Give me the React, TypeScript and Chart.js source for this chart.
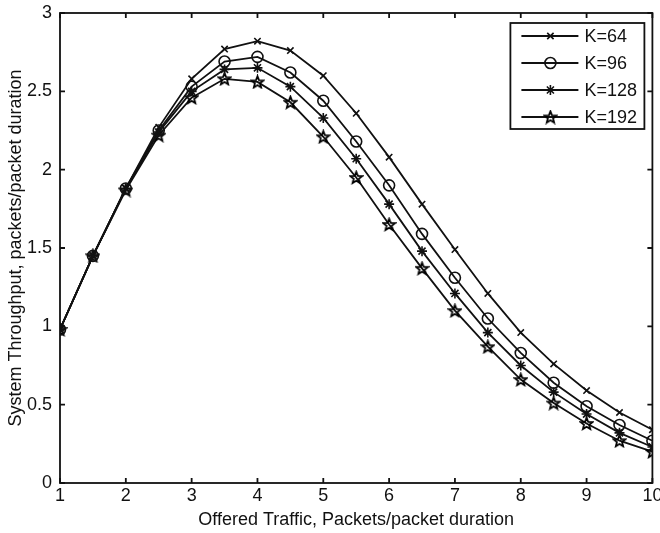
import React, { useEffect, useRef } from "react";
import { Chart, registerables } from "chart.js";

Chart.register(...registerables);

const offeredTraffic = [1, 1.5, 2, 2.5, 3, 3.5, 4, 4.5, 5, 5.5, 6, 6.5, 7, 7.5, 8, 8.5, 9, 9.5, 10];
const k64 = [0.98, 1.45, 1.88, 2.27, 2.58, 2.77, 2.82, 2.76, 2.6, 2.36, 2.08, 1.78, 1.49, 1.21, 0.96, 0.76, 0.59, 0.45, 0.34];
const k96 = [0.98, 1.45, 1.88, 2.25, 2.53, 2.69, 2.72, 2.62, 2.44, 2.18, 1.9, 1.59, 1.31, 1.05, 0.83, 0.64, 0.49, 0.37, 0.27];
const k128 = [0.98, 1.45, 1.88, 2.24, 2.5, 2.64, 2.65, 2.53, 2.33, 2.07, 1.78, 1.48, 1.21, 0.96, 0.75, 0.58, 0.44, 0.32, 0.23];
const k192 = [0.98, 1.45, 1.87, 2.22, 2.46, 2.58, 2.56, 2.43, 2.21, 1.95, 1.65, 1.37, 1.1, 0.87, 0.66, 0.51, 0.38, 0.27, 0.2];
const seriesLabels = ["K=64", "K=96", "K=128", "K=192"];
const xTitle = "Offered Traffic, Packets/packet duration";
const yTitle = "System Throughput, packets/packet duration";

const FONT = "'Liberation Sans', Arial, Helvetica, sans-serif";
const INK = "#111111";

function makePentagram(): HTMLCanvasElement {
  const c = document.createElement("canvas");
  const s = 15;
  c.width = s;
  c.height = s;
  const g = c.getContext("2d")!;
  const cx = s / 2, cy = s / 2 + 0.5, R = 6.2, r = 2.7;
  g.beginPath();
  for (let i = 0; i < 10; i++) {
    const rad = i % 2 === 0 ? R : r;
    const a = -Math.PI / 2 + (i * Math.PI) / 5;
    const px = cx + rad * Math.cos(a);
    const py = cy + rad * Math.sin(a);
    if (i === 0) g.moveTo(px, py);
    else g.lineTo(px, py);
  }
  g.closePath();
  g.strokeStyle = "#000";
  g.lineWidth = 1.8;
  g.stroke();
  return c;
}

function drawMarker(ctx: CanvasRenderingContext2D, style: any, r: number, x: number, y: number) {
  ctx.beginPath();
  if (style === "crossRot") {
    const d = r * Math.SQRT1_2;
    ctx.moveTo(x - d, y - d); ctx.lineTo(x + d, y + d);
    ctx.moveTo(x - d, y + d); ctx.lineTo(x + d, y - d);
    ctx.stroke();
  } else if (style === "circle") {
    ctx.arc(x, y, r, 0, Math.PI * 2);
    ctx.stroke();
  } else if (style === "star") {
    const d = r * Math.SQRT1_2;
    ctx.moveTo(x - r, y); ctx.lineTo(x + r, y);
    ctx.moveTo(x, y - r); ctx.lineTo(x, y + r);
    ctx.moveTo(x - d, y - d); ctx.lineTo(x + d, y + d);
    ctx.moveTo(x - d, y + d); ctx.lineTo(x + d, y - d);
    ctx.stroke();
  } else if (style instanceof HTMLCanvasElement) {
    ctx.drawImage(style, x - style.width / 2, y - style.height / 2);
  }
}

export default function App() {
  const ref = useRef<HTMLCanvasElement | null>(null);

  useEffect(() => {
    if (!ref.current) return;
    const pent = makePentagram();
    const toPts = (arr: number[]) => arr.map((y, i) => ({ x: offeredTraffic[i], y }));

    const styles: any[] = [
      { pointStyle: "crossRot", pointRadius: 4.5 },
      { pointStyle: "circle", pointRadius: 5.5 },
      { pointStyle: "star", pointRadius: 5 },
      { pointStyle: pent, pointRadius: 6 },
    ];
    const all = [k64, k96, k128, k192];

    const datasets = all.map((arr, i) => ({
      label: seriesLabels[i],
      data: toPts(arr),
      borderColor: INK,
      backgroundColor: "rgba(0,0,0,0)",
      borderWidth: 1.8,
      pointBorderColor: INK,
      pointBackgroundColor: "rgba(0,0,0,0)",
      pointBorderWidth: 1.6,
      tension: 0,
      ...styles[i],
    }));

    const frame = {
      id: "matlabFrame",
      afterDraw(chart: any) {
        const { ctx, chartArea: a, scales } = chart;
        ctx.save();
        ctx.strokeStyle = INK;
        ctx.lineWidth = 1.8;
        ctx.strokeRect(a.left, a.top, a.right - a.left, a.bottom - a.top);
        const tl = 5;
        ctx.beginPath();
        scales.x.ticks.forEach((t: any) => {
          const px = scales.x.getPixelForValue(t.value);
          ctx.moveTo(px, a.bottom);
          ctx.lineTo(px, a.bottom - tl);
          ctx.moveTo(px, a.top);
          ctx.lineTo(px, a.top + tl);
        });
        scales.y.ticks.forEach((t: any) => {
          const py = scales.y.getPixelForValue(t.value);
          ctx.moveTo(a.left, py);
          ctx.lineTo(a.left + tl, py);
          ctx.moveTo(a.right, py);
          ctx.lineTo(a.right - tl, py);
        });
        ctx.stroke();

        // legend
        const bw = 134, bh = 106;
        const bx = a.right - 8 - bw;
        const by = a.top + 10;
        ctx.fillStyle = "#ffffff";
        ctx.fillRect(bx, by, bw, bh);
        ctx.lineWidth = 1.8;
        ctx.strokeRect(bx, by, bw, bh);
        ctx.font = `18px ${FONT}`;
        ctx.textBaseline = "middle";
        ctx.textAlign = "left";
        chart.data.datasets.forEach((ds: any, i: number) => {
          const y = by + 13 + i * 27;
          ctx.beginPath();
          ctx.lineWidth = 1.8;
          ctx.moveTo(bx + 11, y);
          ctx.lineTo(bx + 68, y);
          ctx.stroke();
          ctx.lineWidth = 1.6;
          drawMarker(ctx, ds.pointStyle, ds.pointRadius, bx + 40, y);
          ctx.fillStyle = INK;
          ctx.fillText(ds.label, bx + 74, y + 1);
        });
        ctx.restore();
      },
    };

    const chart = new Chart(ref.current, {
      type: "line",
      data: { datasets },
      options: {
        animation: false,
        responsive: false,
        maintainAspectRatio: false,
        layout: { padding: { top: 13, right: 3, left: 0, bottom: 0 } },
        plugins: { legend: { display: false }, tooltip: { enabled: false } },
        scales: {
          x: {
            type: "linear",
            min: 1,
            max: 10,
            ticks: { stepSize: 1, color: INK, font: { family: FONT, size: 18 }, padding: 2, maxRotation: 0, autoSkip: false },
            grid: { display: false, drawTicks: false },
            border: { display: false },
            title: { display: true, text: xTitle, color: INK, font: { family: FONT, size: 18 }, padding: { top: 0, bottom: 2 } },
            afterFit(scale: any) {
              scale.paddingLeft = 0;
              scale.paddingRight = 0;
              scale.height = 50;
            },
          } as any,
          y: {
            type: "linear",
            min: 0,
            max: 3,
            ticks: {
              stepSize: 0.5,
              color: INK,
              font: { family: FONT, size: 18 },
              padding: 8,
              callback: (v: any) => String(Number(v)),
            },
            grid: { display: false, drawTicks: false },
            border: { display: false },
            title: { display: true, text: yTitle, color: INK, font: { family: FONT, size: 18 }, padding: { top: 5, bottom: 0 } },
            afterFit(scale: any) {
              scale.paddingTop = 0;
              scale.paddingBottom = 0;
              scale.width = 60;
            },
          } as any,
        },
      },
      plugins: [frame],
    });
    return () => chart.destroy();
  }, []);

  return (
    <div style={{ position: "fixed", left: 0, top: 0, width: 660, height: 533, background: "#fff", overflow: "hidden" }}>
      <canvas ref={ref} width={660} height={533} style={{ display: "block", width: 660, height: 533 }} />
    </div>
  );
}
